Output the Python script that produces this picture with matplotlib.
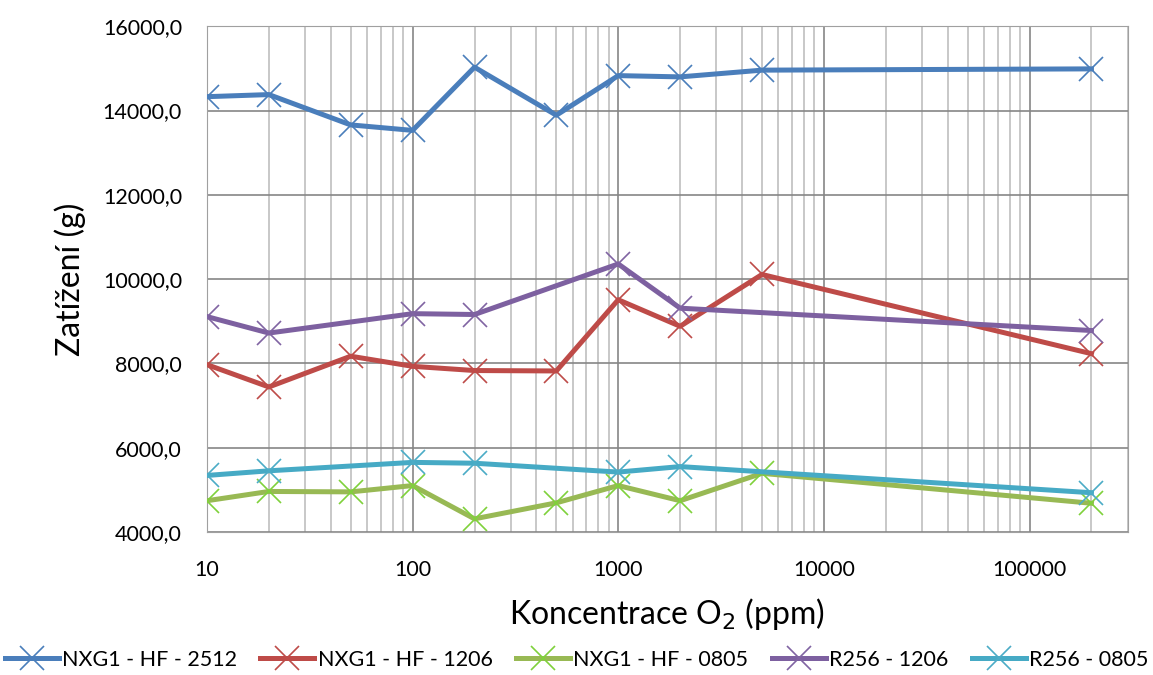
import numpy as np
import matplotlib.pyplot as plt
from matplotlib.ticker import FixedLocator, FuncFormatter, LogLocator, NullFormatter

plt.rcParams['font.family'] = ['Lato', 'DejaVu Sans']

# data
conc = [10, 20, 50, 100, 200, 500, 1000, 2000, 5000, 200000]
nxg1_2512 = [14330, 14380, 13660, 13530, 15030, 13890, 14830, 14800, 14960, 14990]
nxg1_1206 = [7970, 7440, 8170, 7930, 7830, 7820, 9510, 8880, 10110, 8230]
nxg1_0805 = [4740, 4960, 4950, 5100, 4310, 4690, 5100, 4740, 5390, 4680]

conc_r = [10, 20, 100, 200, 1000, 2000, 200000]
r256_1206 = [9110, 8720, 9180, 9160, 10360, 9310, 8780]
r256_0805 = [5340, 5450, 5650, 5630, 5420, 5550, 4930]

series = [
    ('NXG1 - HF - 2512', conc, nxg1_2512, '#4A7EBB', '#4A7EBB'),
    ('NXG1 - HF - 1206', conc, nxg1_1206, '#BE4B48', '#BE4B48'),
    ('NXG1 - HF - 0805', conc, nxg1_0805, '#98B954', '#7FD13B'),
    ('R256 - 1206', conc_r, r256_1206, '#7D60A0', '#8064A2'),
    ('R256 - 0805', conc_r, r256_0805, '#46AAC5', '#4BACC6'),
]

fig = plt.figure(figsize=(11.53, 6.75), dpi=100)
ax = fig.add_axes([0.1795, 0.212, 0.7985, 0.749])

for name, xs, ys, col, mcol in series:
    ax.plot(xs, ys, color=col, lw=3.6, marker='x', markersize=17,
            markeredgewidth=1.2, markeredgecolor=mcol, label=name, zorder=3)

ax.set_xscale('log')
ax.set_xlim(10, 300000)
ax.set_ylim(4000, 16000)
ax.yaxis.set_major_locator(FixedLocator(np.arange(4000, 16001, 2000)))
ax.yaxis.set_major_formatter(FuncFormatter(lambda v, p: f'{v:.1f}'.replace('.', ',')))
ax.xaxis.set_major_locator(LogLocator(base=10))
ax.xaxis.set_major_formatter(FuncFormatter(lambda v, p: f'{int(round(v))}'))
ax.xaxis.set_minor_locator(LogLocator(base=10, subs=np.arange(2, 10)))
ax.xaxis.set_minor_formatter(NullFormatter())

ax.grid(True, which='major', color='#868686', lw=1.2, zorder=0)
ax.grid(True, which='minor', axis='x', color='#BFBFBF', lw=1.2, zorder=0)
for s in ax.spines.values():
    s.set_color('#A0A0A0')
ax.tick_params(which='both', length=0, labelsize=15.5)
ax.yaxis.set_tick_params(which='major', pad=18)
ax.xaxis.set_tick_params(which='major', pad=20)

ax.set_ylabel('Zatížení (g)', fontsize=23, labelpad=12)
ax.set_xlabel('Koncentrace O$_2$ (ppm)', fontsize=23, labelpad=12)

fig.legend(loc='lower center', bbox_to_anchor=(0.5, -0.008), ncol=5, frameon=False,
           fontsize=15.5, handlelength=2.5, handletextpad=0.15, columnspacing=1.1,
           borderaxespad=0.1)

fig.savefig('out.png', dpi=100)
